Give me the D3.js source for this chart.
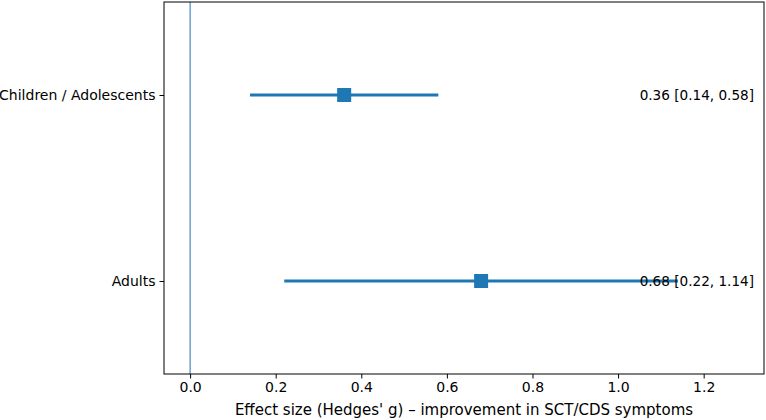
<!DOCTYPE html>
<html>
<head>
<meta charset="utf-8">
<script src="https://cdn.jsdelivr.net/npm/d3@7"></script>
<style>
  body { margin: 0; background: #fff; }
  text { font-family: "DejaVu Sans", sans-serif; }
</style>
</head>
<body>
<div id="chart"></div>
<script>
//Dimensions and margins
const width = 766;
const height = 420;
const margin = { top: 2, right: 2, bottom: 46, left: 164 };

//Data
const groups = ["Children / Adolescents", "Adults"];
const effects = [0.36, 0.68];
const lower = [0.14, 0.22];
const upper = [0.58, 1.14];
const xTicks = [0.0, 0.2, 0.4, 0.6, 0.8, 1.0, 1.2];

const color = "#1f77b4";

const svg = d3.select("#chart").append("svg").attr("width", width).attr("height", height);

//Scales
const x = d3.scaleLinear().domain([-0.061, 1.341]).range([margin.left, width - margin.right]);
const y = d3.scaleLinear().domain([1.5, -0.5]).range([margin.top, height - margin.bottom]);
const yPos = i => y(groups.length - 1 - i);

//Reference line at zero
svg.append("line")
    .attr("x1", x(0)).attr("x2", x(0))
    .attr("y1", margin.top).attr("y2", height - margin.bottom)
    .attr("stroke", color).attr("stroke-width", 1);

//Confidence intervals
svg.selectAll(".ci").data(groups).enter().append("line")
    .attr("class", "ci")
    .attr("x1", (d, i) => x(lower[i]))
    .attr("x2", (d, i) => x(upper[i]))
    .attr("y1", (d, i) => yPos(i))
    .attr("y2", (d, i) => yPos(i))
    .attr("stroke", color).attr("stroke-width", 3);

//Point estimates
const ms = 14;
svg.selectAll(".pt").data(groups).enter().append("rect")
    .attr("class", "pt")
    .attr("x", (d, i) => x(effects[i]) - ms / 2)
    .attr("y", (d, i) => yPos(i) - ms / 2)
    .attr("width", ms).attr("height", ms)
    .attr("fill", color);

//Text labels
svg.selectAll(".lab").data(groups).enter().append("text")
    .attr("class", "lab")
    .attr("x", width - 12)
    .attr("y", (d, i) => yPos(i))
    .attr("dy", "0.35em")
    .attr("text-anchor", "end")
    .style("font-size", "13.6px")
    .attr("fill", "#000")
    .text((d, i) => `${effects[i].toFixed(2)} [${lower[i].toFixed(2)}, ${upper[i].toFixed(2)}]`);

//Axes
const xAxis = svg.append("g")
    .attr("transform", `translate(0, ${height - margin.bottom})`)
    .call(d3.axisBottom(x).tickValues(xTicks).tickFormat(d3.format(".1f")).tickSize(4.5).tickPadding(4));
const yAxis = svg.append("g")
    .attr("transform", `translate(${margin.left}, 0)`)
    .call(d3.axisLeft(y).tickValues([1, 0]).tickFormat(v => groups[groups.length - 1 - v]).tickSize(4.5).tickPadding(4));
[xAxis, yAxis].forEach(g => {
    g.select(".domain").remove();
    g.selectAll("text").style("font-size", "14px").attr("fill", "#000");
    g.selectAll("line").attr("stroke", "#000").attr("stroke-width", 1);
});

//Frame
svg.append("rect")
    .attr("x", margin.left).attr("y", margin.top)
    .attr("width", width - margin.left - margin.right)
    .attr("height", height - margin.top - margin.bottom)
    .attr("fill", "none").attr("stroke", "#000").attr("stroke-width", 1);

//Axis title
svg.append("text")
    .attr("x", (margin.left + width - margin.right) / 2)
    .attr("y", height - 5)
    .attr("text-anchor", "middle")
    .style("font-size", "15px")
    .text("Effect size (Hedges' g) \u2013 improvement in SCT/CDS symptoms");
</script>
</body>
</html>
